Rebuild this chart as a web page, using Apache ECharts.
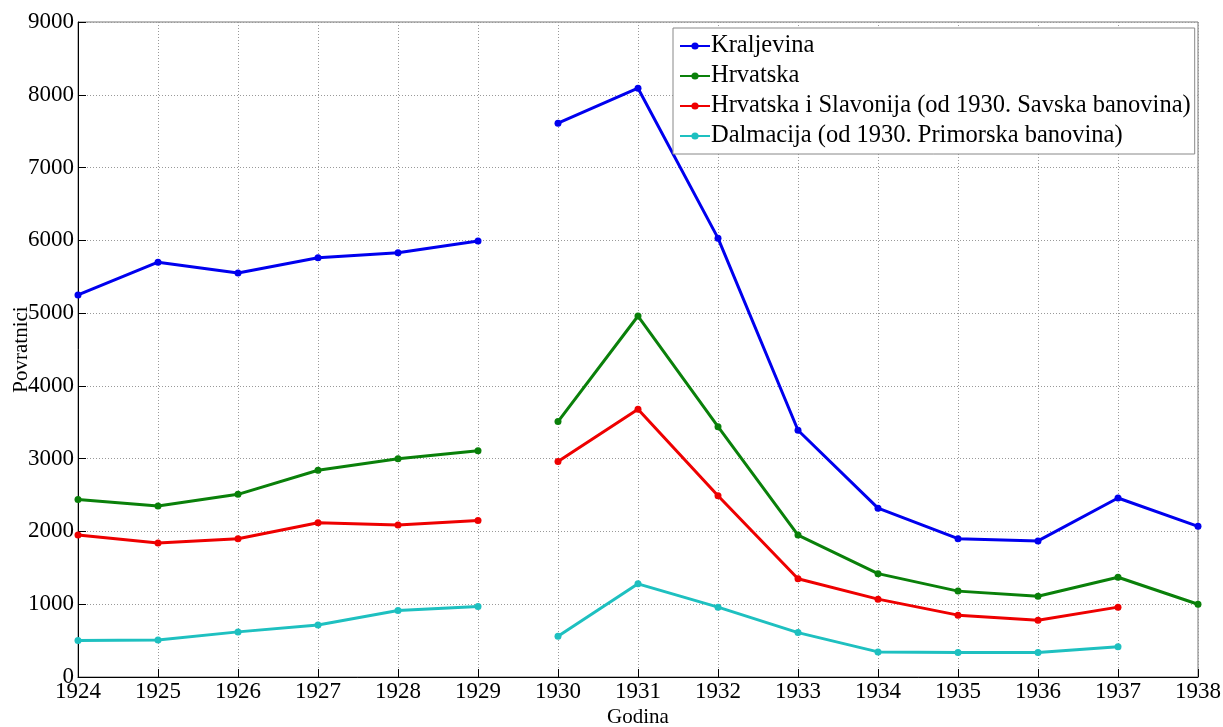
<!DOCTYPE html>
<html>
<head>
<meta charset="utf-8">
<script src="https://cdn.jsdelivr.net/npm/echarts@6/dist/echarts.min.js"></script>
<style>
  html, body { margin: 0; padding: 0; background: #fff; }
  #main { width: 1223px; height: 727px; }
</style>
</head>
<body>
<div id="main"></div>
<script>
// godine, null = prekid izmedju 1929 i 1930
var years = [1924, 1925, 1926, 1927, 1928, 1929, 1929.5, 1930, 1931, 1932, 1933, 1934, 1935, 1936, 1937, 1938];

var kraljevina = [5250, 5700, 5550, 5760, 5830, 5990, null, 7610, 8090, 6030, 3390, 2320, 1900, 1870, 2460, 2070];
var hrvatska = [2440, 2350, 2510, 2840, 3000, 3110, null, 3510, 4960, 3440, 1950, 1420, 1180, 1110, 1370, 1000];
var hrvSlav = [1950, 1840, 1900, 2120, 2090, 2150, null, 2960, 3680, 2490, 1350, 1070, 850, 780, 960, null];
var dalmacija = [500, 510, 620, 715, 915, 970, null, 560, 1280, 960, 610, 345, 335, 335, 415, null];

var names = ['Kraljevina', 'Hrvatska', 'Hrvatska i Slavonija (od 1930. Savska banovina)', 'Dalmacija (od 1930. Primorska banovina)'];
var colors = ['#0000ee', '#0a800a', '#ee0000', '#1ec0c0'];

function pairs(vals) {
  return years.map(function (y, i) { return [y, vals[i]]; });
}

var allData = [kraljevina, hrvatska, hrvSlav, dalmacija];

var chart = echarts.init(document.getElementById('main'));

var series = allData.map(function (vals, i) {
  return {
    name: names[i],
    type: 'line',
    data: pairs(vals),
    connectNulls: false,
    symbol: 'circle',
    symbolSize: 7,
    lineStyle: { width: 3, color: colors[i] },
    itemStyle: { color: colors[i] }
  };
});

var font = 'Liberation Serif, Times New Roman, serif';

chart.setOption({
  backgroundColor: '#fff',
  animation: false,
  textStyle: { fontFamily: font },
  grid: {
    left: 78, right: 25, top: 22, bottom: 50,
    outerBoundsMode: 'none',
    containLabel: false,
    show: true, borderColor: '#777', borderWidth: 1
  },
  legend: {
    orient: 'vertical',
    left: 673, top: 28,
    width: 521,
    padding: [3, 4, 3, 6],
    itemGap: 0,
    itemWidth: 30,
    itemHeight: 9,
    backgroundColor: '#fff',
    borderColor: '#888',
    borderWidth: 1,
    textStyle: { fontSize: 24.5, fontFamily: font, color: '#000', lineHeight: 30, padding: [0, 0, 0, -4] },
    data: names
  },
  xAxis: {
    type: 'value',
    min: 1924, max: 1938, interval: 1,
    name: 'Godina',
    nameLocation: 'middle',
    nameGap: 30,
    nameMoveOverlap: false,
    nameTextStyle: { fontSize: 21, color: '#000', fontFamily: font },
    axisLine: { lineStyle: { color: '#000' } },
    axisTick: { inside: true, length: 8, lineStyle: { color: '#000' } },
    axisLabel: { fontSize: 23, color: '#000', fontFamily: font, margin: 3, formatter: function (v) { return String(v); } },
    splitLine: { show: true, lineStyle: { type: [1, 2], color: '#999' } }
  },
  yAxis: {
    type: 'value',
    min: 0, max: 9000, interval: 1000,
    name: 'Povratnici',
    nameLocation: 'middle',
    nameGap: 46,
    nameMoveOverlap: false,
    nameTextStyle: { fontSize: 21, color: '#000', fontFamily: font },
    axisLine: { show: true, lineStyle: { color: '#000' } },
    axisTick: { show: true, inside: true, length: 8, lineStyle: { color: '#000' } },
    axisLabel: { fontSize: 23, color: '#000', fontFamily: font, margin: 4, formatter: function (v) { return String(v); } },
    splitLine: { show: true, lineStyle: { type: [1, 2], color: '#999' } }
  },
  series: series
});
</script>
</body>
</html>
